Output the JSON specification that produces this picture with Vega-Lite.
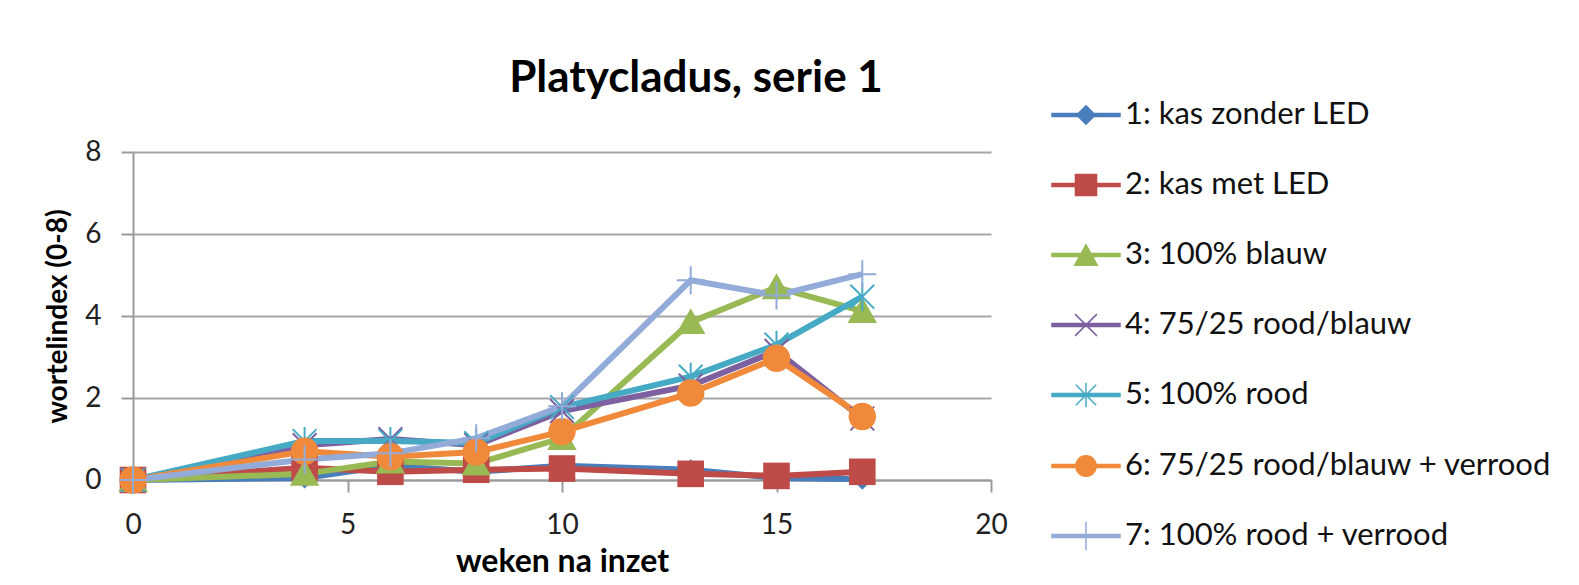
{
  "$schema": "https://vega.github.io/schema/vega-lite/v6.json",
  "width": 858,
  "height": 328,
  "autosize": {"type": "none"},
  "padding": {"left": 133, "top": 152, "right": 588, "bottom": 105},
  "background": "white",
  "config": {"view": {"stroke": null}, "font": "Lato"},
  "title": {"text": "Platycladus, serie 1", "fontSize": 44, "fontWeight": "bold", "font": "Lato", "color": "#000000", "anchor": "middle", "dx": 134, "offset": -21},
  "data": {"values": [
    {"series": "1: kas zonder LED", "week": 0, "index": 0},
    {"series": "1: kas zonder LED", "week": 4, "index": 0.05},
    {"series": "1: kas zonder LED", "week": 6, "index": 0.35},
    {"series": "1: kas zonder LED", "week": 8, "index": 0.2},
    {"series": "1: kas zonder LED", "week": 10, "index": 0.35},
    {"series": "1: kas zonder LED", "week": 13, "index": 0.25},
    {"series": "1: kas zonder LED", "week": 15, "index": 0.05},
    {"series": "1: kas zonder LED", "week": 17, "index": 0.02},
    {"series": "2: kas met LED", "week": 0, "index": 0},
    {"series": "2: kas met LED", "week": 4, "index": 0.3},
    {"series": "2: kas met LED", "week": 6, "index": 0.2},
    {"series": "2: kas met LED", "week": 8, "index": 0.25},
    {"series": "2: kas met LED", "week": 10, "index": 0.28},
    {"series": "2: kas met LED", "week": 13, "index": 0.15},
    {"series": "2: kas met LED", "week": 15, "index": 0.1},
    {"series": "2: kas met LED", "week": 17, "index": 0.2},
    {"series": "3: 100% blauw", "week": 0, "index": 0},
    {"series": "3: 100% blauw", "week": 4, "index": 0.15},
    {"series": "3: 100% blauw", "week": 6, "index": 0.45},
    {"series": "3: 100% blauw", "week": 8, "index": 0.4},
    {"series": "3: 100% blauw", "week": 10, "index": 1.02},
    {"series": "3: 100% blauw", "week": 13, "index": 3.85},
    {"series": "3: 100% blauw", "week": 15, "index": 4.7},
    {"series": "3: 100% blauw", "week": 17, "index": 4.12},
    {"series": "4: 75/25 rood/blauw", "week": 0, "index": 0},
    {"series": "4: 75/25 rood/blauw", "week": 4, "index": 0.85},
    {"series": "4: 75/25 rood/blauw", "week": 6, "index": 1.0},
    {"series": "4: 75/25 rood/blauw", "week": 8, "index": 0.85},
    {"series": "4: 75/25 rood/blauw", "week": 10, "index": 1.68},
    {"series": "4: 75/25 rood/blauw", "week": 13, "index": 2.3},
    {"series": "4: 75/25 rood/blauw", "week": 15, "index": 3.15},
    {"series": "4: 75/25 rood/blauw", "week": 17, "index": 1.5},
    {"series": "5: 100% rood", "week": 0, "index": 0},
    {"series": "5: 100% rood", "week": 4, "index": 0.95},
    {"series": "5: 100% rood", "week": 6, "index": 0.95},
    {"series": "5: 100% rood", "week": 8, "index": 0.9},
    {"series": "5: 100% rood", "week": 10, "index": 1.78},
    {"series": "5: 100% rood", "week": 13, "index": 2.52},
    {"series": "5: 100% rood", "week": 15, "index": 3.3},
    {"series": "5: 100% rood", "week": 17, "index": 4.47},
    {"series": "6: 75/25 rood/blauw + verrood", "week": 0, "index": 0},
    {"series": "6: 75/25 rood/blauw + verrood", "week": 4, "index": 0.7},
    {"series": "6: 75/25 rood/blauw + verrood", "week": 6, "index": 0.57},
    {"series": "6: 75/25 rood/blauw + verrood", "week": 8, "index": 0.68},
    {"series": "6: 75/25 rood/blauw + verrood", "week": 10, "index": 1.18},
    {"series": "6: 75/25 rood/blauw + verrood", "week": 13, "index": 2.12},
    {"series": "6: 75/25 rood/blauw + verrood", "week": 15, "index": 2.97},
    {"series": "6: 75/25 rood/blauw + verrood", "week": 17, "index": 1.55},
    {"series": "7: 100% rood + verrood", "week": 0, "index": 0},
    {"series": "7: 100% rood + verrood", "week": 4, "index": 0.5},
    {"series": "7: 100% rood + verrood", "week": 6, "index": 0.65},
    {"series": "7: 100% rood + verrood", "week": 8, "index": 1.02},
    {"series": "7: 100% rood + verrood", "week": 10, "index": 1.8},
    {"series": "7: 100% rood + verrood", "week": 13, "index": 4.87},
    {"series": "7: 100% rood + verrood", "week": 15, "index": 4.5},
    {"series": "7: 100% rood + verrood", "week": 17, "index": 5.02}
  ]},
  "encoding": {
    "x": {"field": "week", "type": "quantitative", "scale": {"domain": [0, 20], "nice": false},
      "axis": {"title": "weken na inzet", "values": [0, 5, 10, 15, 20], "grid": false, "domainColor": "#9A9A9A", "domainWidth": 2, "tickColor": "#9A9A9A", "tickWidth": 2, "tickSize": 12, "labelFontSize": 28, "labelFont": "Lato", "labelColor": "#222222", "labelPadding": 19, "labelFlush": false, "titleFontSize": 32, "titleFont": "Lato", "titleFontWeight": "bold", "titleColor": "#000000", "titlePadding": 7}},
    "y": {"field": "index", "type": "quantitative", "scale": {"domain": [0, 8], "nice": false},
      "axis": {"title": "wortelindex (0-8)", "values": [0, 2, 4, 6, 8], "grid": true, "gridColor": "#A6A6A6", "gridWidth": 2, "domainColor": "#9A9A9A", "domainWidth": 2, "tickColor": "#9A9A9A", "tickWidth": 2, "tickSize": 12, "labelFontSize": 28, "labelFont": "Lato", "labelColor": "#222222", "labelPadding": 20, "titleFontSize": 28, "titleFont": "Lato", "titleFontWeight": "bold", "titleColor": "#000000", "titlePadding": 12}},
    "color": {"field": "series", "type": "nominal",
      "scale": {"domain": ["1: kas zonder LED", "2: kas met LED", "3: 100% blauw", "4: 75/25 rood/blauw", "5: 100% rood", "6: 75/25 rood/blauw + verrood", "7: 100% rood + verrood"],
        "range": ["#4A7EBB", "#BE4B48", "#98B954", "#7D60A0", "#46AAC5", "#F08A3A", "#93ABD8"]},
      "legend": {"title": null, "orient": "none", "legendX": 918, "legendY": -72, "labelFont": "Lato", "labelFontSize": 31, "labelColor": "#111111", "labelOffset": 4, "labelLimit": 700, "symbolSize": 4624, "rowPadding": 20,
        "encode": {"symbols": {"update": {
          "shape": {"signal": "['M-1,-0.045H1V0.045H-1ZM0,-0.27L0.27,0L0,0.27L-0.27,0Z','M-1,-0.045H1V0.045H-1ZM-0.31,-0.31H0.31V0.31H-0.31Z','M-1,-0.045H1V0.045H-1ZM0,-0.3L0.33,0.3H-0.33Z','M-1,-0.045H1V0.045H-1ZM-0.32,-0.32L0.32,0.32M0.32,-0.32L-0.32,0.32','M-1,-0.045H1V0.045H-1ZM-0.3,-0.3L0.3,0.3M0.3,-0.3L-0.3,0.3M0,-0.36V0.36','M-1,-0.045H1V0.045H-1ZM-0.3,0A0.3,0.3 0 1,1 0.3,0A0.3,0.3 0 1,1 -0.3,0Z','M-1,-0.045H1V0.045H-1ZM0,-0.42V0.42'][indexof(domain('color'), datum.value)]"},
          "fill": {"scale": "color", "field": "value"},
          "stroke": {"scale": "color", "field": "value"},
          "strokeWidth": {"value": 1.5},
          "opacity": {"value": 1},
          "size": {"value": 4624}
        }}}}
    }
  },
  "layer": [
    {"mark": {"type": "line", "strokeWidth": 6}},
    {"transform": [{"filter": "datum.series == '1: kas zonder LED'"}],
      "mark": {"type": "point", "filled": true, "opacity": 1, "size": 784, "shape": "M0,-0.75L0.75,0L0,0.75L-0.75,0Z"}},
    {"transform": [{"filter": "datum.series == '2: kas met LED'"}],
      "mark": {"type": "point", "filled": true, "opacity": 1, "size": 784, "shape": "M-0.95,-0.95H0.95V0.95H-0.95Z"}},
    {"transform": [{"filter": "datum.series == '3: 100% blauw'"}],
      "mark": {"type": "point", "filled": true, "opacity": 1, "size": 784, "shape": "M0,-1L1.05,0.85H-1.05Z"}},
    {"transform": [{"filter": "datum.series == '4: 75/25 rood/blauw'"}],
      "mark": {"type": "point", "filled": false, "opacity": 1, "size": 784, "strokeWidth": 2, "shape": "M-0.85,-0.85L0.85,0.85M0.85,-0.85L-0.85,0.85"}},
    {"transform": [{"filter": "datum.series == '5: 100% rood'"}],
      "mark": {"type": "point", "filled": false, "opacity": 1, "size": 784, "strokeWidth": 2, "shape": "M-0.85,-0.85L0.85,0.85M0.85,-0.85L-0.85,0.85M0,-1V1"}},
    {"transform": [{"filter": "datum.series == '6: 75/25 rood/blauw + verrood'"}],
      "mark": {"type": "point", "filled": true, "opacity": 1, "size": 784, "shape": "M-0.98,0A0.98,0.98 0 1,1 0.98,0A0.98,0.98 0 1,1 -0.98,0Z"}},
    {"transform": [{"filter": "datum.series == '7: 100% rood + verrood'"}],
      "mark": {"type": "point", "filled": false, "opacity": 1, "size": 784, "strokeWidth": 2, "shape": "M-1,0H1M0,-1V1"}}
  ]
}
